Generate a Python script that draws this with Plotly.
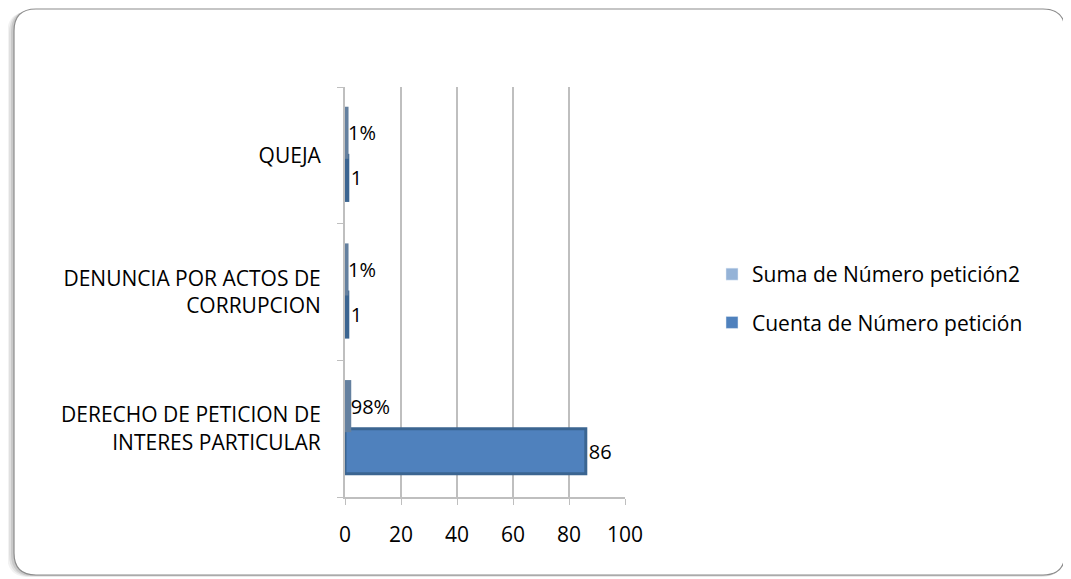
import plotly.graph_objects as go

categories = ["DERECHO DE PETICION DE<br>INTERES PARTICULAR",
              "DENUNCIA POR ACTOS DE<br>CORRUPCION",
              "QUEJA"]
cuenta = [86, 1, 1]
suma_pct = [0.98, 0.01, 0.01]
x_ticks = [0, 20, 40, 60, 80, 100]
series_names = ["Cuenta de Número petición", "Suma de Número petición2"]

FONT = "'Open Sans', Lato, sans-serif"
W, H = 1063, 571  # page adds an 8px body margin

fig = go.Figure()
fig.add_trace(go.Bar(
    y=categories, x=cuenta, orientation="h", name=series_names[0],
    marker=dict(color="#4F81BD", line=dict(color="#3B6591", width=3)),
    text=cuenta, texttemplate="%{x}", textposition="outside",
    textfont=dict(size=20, color="#000000"), cliponaxis=False,
    offsetgroup="a", showlegend=False))
fig.add_trace(go.Bar(
    y=categories, x=suma_pct, orientation="h", name=series_names[1],
    marker=dict(color="#6F86A3", line=dict(color="#64809F", width=7)),
    text=suma_pct, texttemplate="%{x:.0%}", textposition="outside",
    textfont=dict(size=20, color="#000000"), cliponaxis=False,
    offsetgroup="b", showlegend=False))
# legend entries (plain swatches as in the reference legend)
fig.add_trace(go.Bar(x=[None], y=[None], orientation="h", name=series_names[1],
                     marker=dict(color="#95B3D7"), offsetgroup="b", legendgroup="b",
                     showlegend=True, legendrank=1))
fig.add_trace(go.Bar(x=[None], y=[None], orientation="h", name=series_names[0],
                     marker=dict(color="#4F81BD"), offsetgroup="a", legendgroup="a",
                     showlegend=True, legendrank=2))

pl, pr, pt, pb = 337, 617, 79, 489

fig.update_layout(
    width=W, height=H,
    paper_bgcolor="white", plot_bgcolor="white",
    margin=dict(l=pl, r=W - pr, t=pt, b=H - pb),
    barmode="group", bargap=0.34, bargroupgap=0.0,
    font=dict(family=FONT, size=20, color="#000000"),
    showlegend=True,
    legend=dict(traceorder="grouped", xref="container", yref="container",
                x=704 / W, y=1 - 246 / H, xanchor="left", yanchor="top",
                font=dict(size=21, family=FONT), itemwidth=30, tracegroupgap=18,
                bgcolor="rgba(0,0,0,0)"),
    xaxis=dict(range=[0, 100], tickvals=x_ticks, showgrid=True,
               gridcolor="#BFBFBF", gridwidth=2, zeroline=False,
               showline=True, linecolor="#BFBFBF", linewidth=2,
               ticks="outside", ticklen=6, tickcolor="#BFBFBF",
               ticklabelstandoff=12, tickfont=dict(size=21)),
    yaxis=dict(type="category", categoryorder="array", categoryarray=categories,
               showgrid=False, showline=True, linecolor="#BFBFBF", linewidth=2,
               ticks="outside", tickson="boundaries", ticklen=6,
               tickcolor="#BFBFBF", ticklabelstandoff=18,
               tickfont=dict(size=21)),
)

pw, ph = pr - pl, pb - pt
def to_paper(x, y):
    return (x - pl) / pw, (pb - y) / ph

def rounded_paper(x0, y0, x1, y1, r):
    def P(x, y):
        a, b = to_paper(x, y)
        return f"{a:.5f},{b:.5f}"
    return (f"M{P(x0+r,y0)} L{P(x1-r,y0)} Q{P(x1,y0)} {P(x1,y0+r)} "
            f"L{P(x1,y1-r)} Q{P(x1,y1)} {P(x1-r,y1)} L{P(x0+r,y1)} "
            f"Q{P(x0,y1)} {P(x0,y1-r)} L{P(x0,y0+r)} Q{P(x0,y0)} {P(x0+r,y0)} Z")

fx0, fy0, fx1, fy1 = 6, 1, 1057, 567
frame_shapes = []
for off, col in [(7, "rgba(0,0,0,0.05)"), (5, "rgba(0,0,0,0.07)"), (3, "rgba(0,0,0,0.10)")]:
    frame_shapes.append(dict(type="path", xref="paper", yref="paper", layer="below",
                             path=rounded_paper(fx0 - off, fy0 + off * 0.4, fx1 - off * 0.3, fy1 + off * 0.3, 22),
                             line=dict(width=0), fillcolor=col))
frame_shapes.append(dict(type="path", xref="paper", yref="paper", layer="below",
                         path=rounded_paper(fx0, fy0, fx1, fy1, 22),
                         line=dict(color="#8C8C8C", width=1.2), fillcolor="white"))
fig.update_layout(shapes=frame_shapes)

fig.write_html("out.html")
